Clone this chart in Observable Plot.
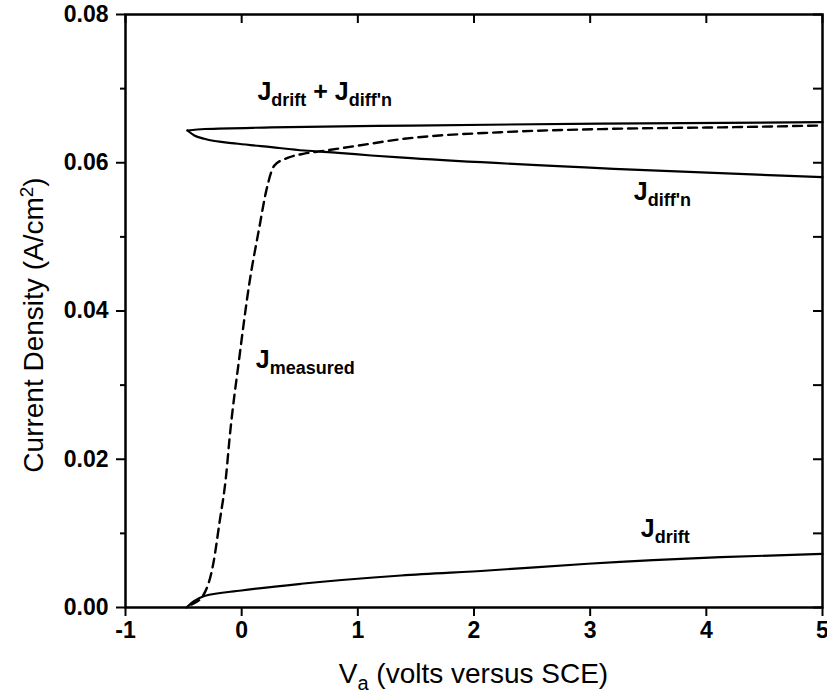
<!DOCTYPE html>
<html>
<head>
<meta charset="utf-8">
<script src="https://cdn.jsdelivr.net/npm/d3@7"></script>
<script src="https://cdn.jsdelivr.net/npm/@observablehq/plot@0.6"></script>
<style>
  html, body { margin: 0; padding: 0; background: #fff; }
  svg text { white-space: pre; }
</style>
</head>
<body>
<div id="chart"></div>
<script>
// Tick values
const xTicks = [-1, 0, 1, 2, 3, 4, 5];
const yTicks = [0, 0.02, 0.04, 0.06, 0.08];
const yMinorTicks = [0.01, 0.03, 0.05, 0.07];
const yAllTicks = [0, 0.01, 0.02, 0.03, 0.04, 0.05, 0.06, 0.07, 0.08];

// J_drift + J_diff'n
const vSum = [-0.467, -0.321, 0.255, 1.458, 3.09, 5.0];
const jSum = [0.06435, 0.06455, 0.06476, 0.06502, 0.06529, 0.06547];

// J_diff'n
const vDiff = [-0.467, -0.407, -0.321, -0.029, 0.255, 0.539, 0.831, 1.115, 1.458, 3.203, 5.0];
const jDiff = [0.06435, 0.06368, 0.06323, 0.06256, 0.0621, 0.06165, 0.06134, 0.06098, 0.06062, 0.05918, 0.05805];

// J_measured (dashed)
const vMeas = [-0.433, -0.332, -0.244, -0.192, -0.132, -0.106, -0.020, 0.066, 0.152, 0.212, 0.281, 0.401, 0.539, 0.685, 0.969, 1.398, 2.232, 3.203, 4.235, 5.0];
const jMeas = [0.0004, 0.00162, 0.00594, 0.01133, 0.01808, 0.02253, 0.03373, 0.04371, 0.05127, 0.05624, 0.05961, 0.06069, 0.06123, 0.06156, 0.06223, 0.06323, 0.06412, 0.06458, 0.0648, 0.06503];

// J_drift
const vDrift = [-0.476, -0.407, -0.321, -0.003, 0.513, 1.373, 2.121, 2.980, 4.124, 5.0];
const jDrift = [0, 0.00088, 0.00155, 0.00229, 0.0032, 0.00432, 0.00499, 0.0059, 0.00679, 0.00724];

const rows = (xs, ys) => xs.map((x, i) => ({x, y: ys[i]}));

const font = "'Liberation Sans', Arial, Helvetica, sans-serif";
const W = 827, H = 700, ML = 125, MR = 5, MT = 14, MB = 93;
const innerW = W - ML - MR, innerH = H - MT - MB, inTick = 9;

const plot = Plot.plot({
  width: W,
  height: H,
  marginLeft: ML,
  marginRight: MR,
  marginTop: MT,
  marginBottom: MB,
  style: {fontFamily: font, background: "#fff", color: "#000", overflow: "visible"},
  x: {domain: [-1, 5]},
  y: {domain: [0, 0.08]},
  marks: [
    Plot.axisX({ticks: xTicks, tickSize: 9, tickPadding: 5, fontSize: 23, fontWeight: "bold",
      strokeWidth: 2, tickFormat: d => String(d), label: null}),
    Plot.axisY({ticks: yTicks, tickSize: 9, tickPadding: 8, fontSize: 23, fontWeight: "bold",
      strokeWidth: 2, tickFormat: d3.format(".2f"), label: null}),
    Plot.axisY({ticks: yMinorTicks, tickSize: 5, strokeWidth: 2,
      tickFormat: () => "", label: null}),
    // inward ticks on the mirrored top and right axes
    Plot.tickX(xTicks, {x: d => d, insetBottom: innerH - inTick, stroke: "#000", strokeWidth: 2}),
    Plot.tickY(yAllTicks, {y: d => d, insetLeft: innerW - inTick, stroke: "#000", strokeWidth: 2}),
    Plot.line(rows(vSum, jSum), {x: "x", y: "y", curve: "monotone-x", stroke: "#000", strokeWidth: 2.2}),
    Plot.line(rows(vDiff, jDiff), {x: "x", y: "y", curve: "monotone-x", stroke: "#000", strokeWidth: 2.2}),
    Plot.line(rows(vDrift, jDrift), {x: "x", y: "y", curve: "monotone-x", stroke: "#000", strokeWidth: 2.2}),
    Plot.line(rows(vMeas, jMeas), {x: "x", y: "y", curve: "monotone-x", stroke: "#000", strokeWidth: 2.4, strokeDasharray: "9,6"}),
    Plot.frame({stroke: "#000", strokeWidth: 2.5})
  ]
});

document.getElementById("chart").appendChild(plot);

const sx = plot.scale("x"), sy = plot.scale("y");
const svg = d3.select(plot);

function label(parts, px, py, opts = {}) {
  const t = svg.append("text")
    .attr("x", px).attr("y", py)
    .attr("font-family", font)
    .attr("font-weight", opts.weight || "bold")
    .attr("font-size", opts.size || 25)
    .attr("fill", "#000")
    .attr("text-anchor", opts.anchor || "start");
  if (opts.transform) t.attr("transform", opts.transform);
  let shift = 0;
  for (const [txt, kind] of parts) {
    const target = kind === "sub" ? (opts.subShift || 6) : kind === "sup" ? -(opts.supShift || 10) : 0;
    const s = t.append("tspan").text(txt).attr("dy", target - shift);
    if (kind) s.attr("font-size", opts.subSize || 18);
    shift = target;
  }
  return t;
}

label([["J"], ["drift", "sub"], [" + J"], ["diff'n", "sub"]], sx.apply(0.14), sy.apply(0.0684));
label([["J"], ["diff'n", "sub"]], sx.apply(3.38), sy.apply(0.0549));
label([["J"], ["measured", "sub"]], sx.apply(0.126), sy.apply(0.0322));
label([["J"], ["drift", "sub"]], sx.apply(3.44), sy.apply(0.0094));

// Axis titles
label([["V"], ["a", "sub"], [" (volts versus SCE)"]], (sx.apply(-1) + sx.apply(5)) / 2, 683,
  {weight: "normal", size: 28, subSize: 20, subShift: 7, anchor: "middle"});
label([["Current Density (A/cm"], ["2", "sup"], [")"]], 0, 0,
  {weight: "normal", size: 28, subSize: 19, supShift: 10, anchor: "middle",
   transform: "translate(43,325) rotate(-90)"});
</script>
</body>
</html>
